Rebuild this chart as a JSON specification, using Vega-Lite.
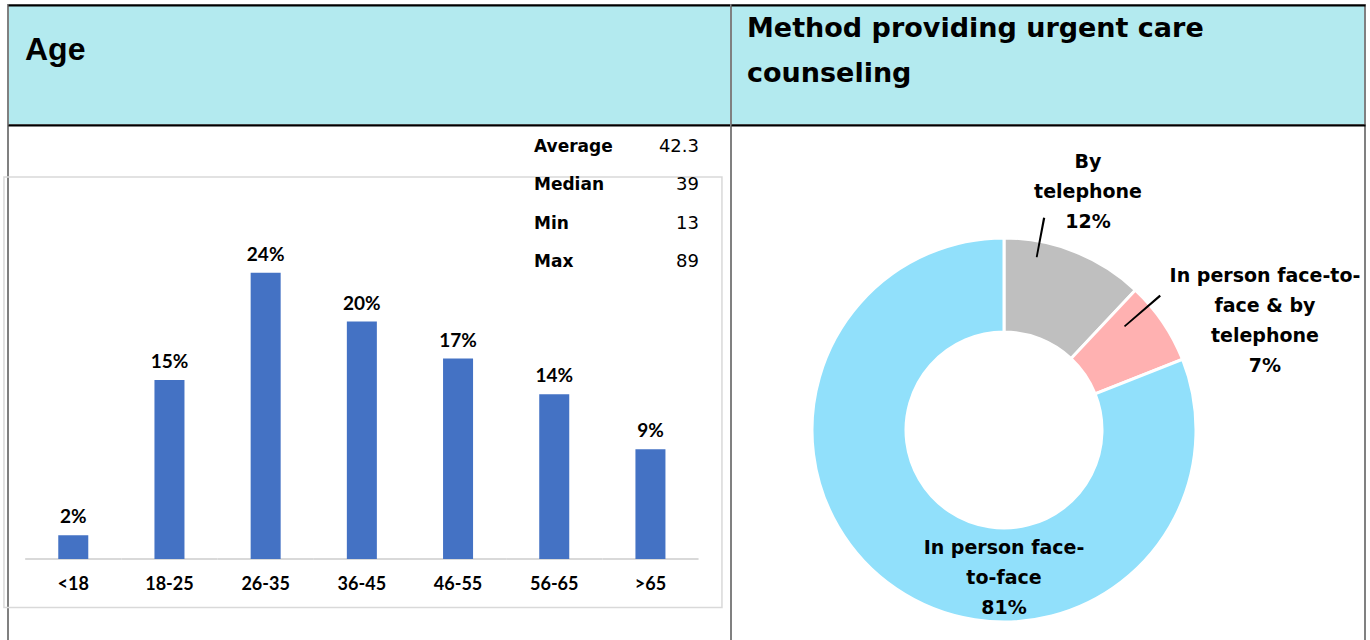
{
  "$schema": "https://vega.github.io/schema/vega-lite/v6.json",
  "background": "white",
  "padding": {"left": 2, "top": 4, "right": 0, "bottom": 0},
  "spacing": 0,
  "bounds": "flush",
  "columns": 2,
  "config": {"view": {"stroke": null}, "font": "Lato"},
  "datasets": {
    "age": [
      {"age": "<18", "pct": 0.02},
      {"age": "18-25", "pct": 0.15},
      {"age": "26-35", "pct": 0.24},
      {"age": "36-45", "pct": 0.199},
      {"age": "46-55", "pct": 0.168},
      {"age": "56-65", "pct": 0.138},
      {"age": ">65", "pct": 0.092}
    ],
    "stats": [
      {"stat": "Average", "value": "42.3"},
      {"stat": "Median", "value": "39"},
      {"stat": "Min", "value": "13"},
      {"stat": "Max", "value": "89"}
    ],
    "method": [
      {"method": "By telephone", "label": "By\ntelephone\n12%", "pct": 12, "order": 1},
      {"method": "In person face-to-face & by telephone", "label": "In person face-to-\nface & by\ntelephone\n7%", "pct": 7, "order": 2},
      {"method": "In person face-to-face", "label": "In person face-\nto-face\n81%", "pct": 81, "order": 3}
    ]
  },
  "concat": [
    {
      "width": 723,
      "height": 120,
      "view": {"fill": "#b3eaef", "stroke": "#808080", "strokeWidth": 2},
      "title": {"text": "Age", "orient": "top", "anchor": "start", "frame": "group", "offset": -77, "baseline": "middle", "dx": 17, "font": "Liberation Sans", "fontSize": 32, "fontWeight": "bold", "color": "#000000"},
      "data": {"values": [{"k": 0}]},
      "mark": {"type": "text", "text": "", "opacity": 0},
      "encoding": {
        "x": {"datum": 0, "type": "quantitative", "scale": {"domain": [0, 1]}, "axis": {"orient": "top", "domainColor": "#000000", "domainWidth": 2, "ticks": false, "labels": false, "grid": false, "title": null}}
      }
    },
    {
      "width": 634,
      "height": 120,
      "view": {"fill": "#b3eaef", "stroke": "#808080", "strokeWidth": 2},
      "title": {"text": ["Method providing urgent care", "counseling"], "orient": "top", "anchor": "start", "frame": "group", "offset": -96, "baseline": "middle", "dx": 16, "lineHeight": 45, "font": "DejaVu Sans", "fontSize": 27, "fontWeight": "bold", "color": "#000000"},
      "data": {"values": [{"k": 0}]},
      "mark": {"type": "text", "text": "", "opacity": 0},
      "encoding": {
        "x": {"datum": 0, "type": "quantitative", "scale": {"domain": [0, 1]}, "axis": {"orient": "top", "domainColor": "#000000", "domainWidth": 2, "ticks": false, "labels": false, "grid": false, "title": null}}
      }
    },
    {
      "width": 723,
      "height": 520,
      "view": {"stroke": "#808080", "strokeWidth": 2},
      "layer": [
        {
          "data": {"values": [{"first": "<18", "last": ">65"}]},
          "mark": {"type": "rect", "fill": "#ffffff", "fillOpacity": 0, "stroke": "#d9d9d9", "strokeWidth": 1.5},
          "encoding": {
            "x": {"field": "first", "type": "nominal", "bandPosition": -1.81, "scale": {"type": "band", "domain": ["<18", "18-25", "26-35", "36-45", "46-55", "56-65", ">65"], "paddingInner": 0.688, "paddingOuter": 0.602, "align": 0.434}, "axis": {"orient": "top", "domainColor": "#000000", "domainWidth": 2, "ticks": false, "labels": false, "grid": false, "title": null}},
            "x2": {"field": "last", "bandPosition": 2.883},
            "y": {"datum": 0.3202, "type": "quantitative", "scale": {"domain": [-0.0721, 0.3638], "nice": false, "zero": false}, "axis": null},
            "y2": {"datum": -0.0407}
          }
        },
        {
          "data": {"name": "age"},
          "mark": {"type": "rule", "color": "#d9d9d9", "strokeWidth": 2},
          "encoding": {
            "x": {"field": "age", "type": "nominal", "bandPosition": -1.103, "scale": {"type": "band", "domain": ["<18", "18-25", "26-35", "36-45", "46-55", "56-65", ">65"], "paddingInner": 0.688, "paddingOuter": 0.602, "align": 0.434}, "axis": null},
            "x2": {"field": "age", "bandPosition": 2.103},
            "y": {"datum": 0, "type": "quantitative", "scale": {"domain": [-0.0721, 0.3638], "nice": false, "zero": false}, "axis": null}
          }
        },
        {
          "data": {"name": "age"},
          "mark": {"type": "bar", "color": "#4472c4"},
          "encoding": {
            "x": {
              "field": "age", "type": "nominal",
              "scale": {"type": "band", "domain": ["<18", "18-25", "26-35", "36-45", "46-55", "56-65", ">65"], "paddingInner": 0.688, "paddingOuter": 0.602, "align": 0.434},
              "axis": {"orient": "bottom", "offset": -86, "domain": false, "ticks": false, "tickSize": 0, "labelPadding": 16, "labelAngle": 0, "labelFont": "Lato", "labelFontSize": 18, "labelFontWeight": "bold", "labelColor": "#000000", "grid": false, "title": null}
            },
            "y": {
              "field": "pct", "type": "quantitative", "stack": null,
              "scale": {"domain": [-0.0721, 0.3638], "nice": false, "zero": false},
              "axis": null
            },
            "y2": {"datum": 0}
          }
        },
        {
          "data": {"name": "age"},
          "mark": {"type": "text", "dy": -12, "baseline": "alphabetic", "align": "center", "font": "Lato", "fontSize": 19, "fontWeight": "bold", "color": "#000000"},
          "encoding": {
            "x": {"field": "age", "type": "nominal", "bandPosition": 0.5, "scale": {"type": "band", "domain": ["<18", "18-25", "26-35", "36-45", "46-55", "56-65", ">65"], "paddingInner": 0.688, "paddingOuter": 0.602, "align": 0.434}, "axis": null},
            "y": {"field": "pct", "type": "quantitative", "scale": {"domain": [-0.0721, 0.3638], "nice": false, "zero": false}, "axis": null},
            "text": {"field": "pct", "format": ".0%"}
          }
        },
        {
          "data": {"name": "stats"},
          "transform": [{"window": [{"op": "row_number", "as": "row"}]}],
          "mark": {"type": "text", "align": "left", "baseline": "middle", "font": "DejaVu Sans", "fontSize": 17, "fontWeight": "bold", "color": "#000000"},
          "encoding": {
            "x": {"datum": 0, "type": "quantitative", "scale": {"domain": [-3.188, 1.194], "nice": false, "zero": false}, "axis": null},
            "y": {"field": "row", "type": "quantitative", "scale": {"domain": [0.4286, 13.935], "reverse": true, "nice": false, "zero": false}, "axis": null},
            "text": {"field": "stat"}
          }
        },
        {
          "data": {"name": "stats"},
          "transform": [{"window": [{"op": "row_number", "as": "row"}]}],
          "mark": {"type": "text", "align": "right", "baseline": "middle", "font": "DejaVu Sans", "fontSize": 18, "color": "#000000"},
          "encoding": {
            "x": {"datum": 1, "type": "quantitative", "scale": {"domain": [-3.188, 1.194], "nice": false, "zero": false}, "axis": null},
            "y": {"field": "row", "type": "quantitative", "scale": {"domain": [0.4286, 13.935], "reverse": true, "nice": false, "zero": false}, "axis": null},
            "text": {"field": "value"}
          }
        }
      ],
      "resolve": {"scale": {"x": "independent", "y": "independent"}}
    },
    {
      "width": 634,
      "height": 520,
      "view": {"stroke": "#808080", "strokeWidth": 2},
      "data": {"name": "method"},
      "transform": [{"stack": "pct", "groupby": [], "sort": [{"field": "order"}], "as": ["t0", "t1"]}],
      "encoding": {
        "x": {"datum": 0, "type": "quantitative", "scale": {"domain": [-273, 361], "nice": false, "zero": false}, "axis": {"orient": "top", "domainColor": "#000000", "domainWidth": 2, "ticks": false, "labels": false, "grid": false, "title": null}},
        "y": {"datum": 0, "type": "quantitative", "scale": {"domain": [-215, 305], "nice": false, "zero": false}, "axis": null}
      },
      "layer": [
        {
          "mark": {"type": "arc", "innerRadius": 98, "outerRadius": 192, "stroke": "#ffffff", "strokeWidth": 3},
          "encoding": {
            "theta": {"field": "t0", "type": "quantitative", "stack": null, "scale": {"domain": [0, 100]}},
            "theta2": {"field": "t1"},
            "color": {"field": "method", "type": "nominal", "scale": {"domain": ["By telephone", "In person face-to-face & by telephone", "In person face-to-face"], "range": ["#bfbfbf", "#ffb1b1", "#91e0fb"]}, "legend": null}
          }
        },
        {
          "transform": [{"filter": {"field": "method", "equal": "By telephone"}}],
          "mark": {"type": "arc", "theta": 0.1818, "theta2": 0.1921, "radius": 216, "radius2": 176, "color": "#000000"}
        },
        {
          "transform": [{"filter": {"field": "method", "equal": "In person face-to-face & by telephone"}}],
          "mark": {"type": "arc", "theta": 0.855, "theta2": 0.866, "radius": 206, "radius2": 159, "color": "#000000"}
        },
        {
          "transform": [{"filter": {"field": "method", "equal": "By telephone"}}],
          "mark": {"type": "text", "radius": 281, "thetaOffset": 0.3037, "align": "center", "baseline": "middle", "lineBreak": "\n", "lineHeight": 30, "font": "DejaVu Sans", "fontSize": 19, "fontWeight": "bold", "color": "#000000"},
          "encoding": {"theta": {"field": "t0", "type": "quantitative", "stack": null}, "text": {"field": "label"}}
        },
        {
          "transform": [{"filter": {"field": "method", "equal": "In person face-to-face & by telephone"}}],
          "mark": {"type": "text", "radius": 303, "thetaOffset": 0.2838, "align": "center", "baseline": "middle", "lineBreak": "\n", "lineHeight": 30, "font": "DejaVu Sans", "fontSize": 19, "fontWeight": "bold", "color": "#000000"},
          "encoding": {"theta": {"field": "t0", "type": "quantitative", "stack": null}, "text": {"field": "label"}}
        },
        {
          "transform": [{"filter": {"field": "method", "equal": "In person face-to-face"}}],
          "mark": {"type": "text", "radius": 118, "thetaOffset": 1.9478, "align": "center", "baseline": "middle", "lineBreak": "\n", "lineHeight": 30, "font": "DejaVu Sans", "fontSize": 19, "fontWeight": "bold", "color": "#000000"},
          "encoding": {"theta": {"field": "t0", "type": "quantitative", "stack": null}, "text": {"field": "label"}}
        }
      ]
    }
  ]
}
